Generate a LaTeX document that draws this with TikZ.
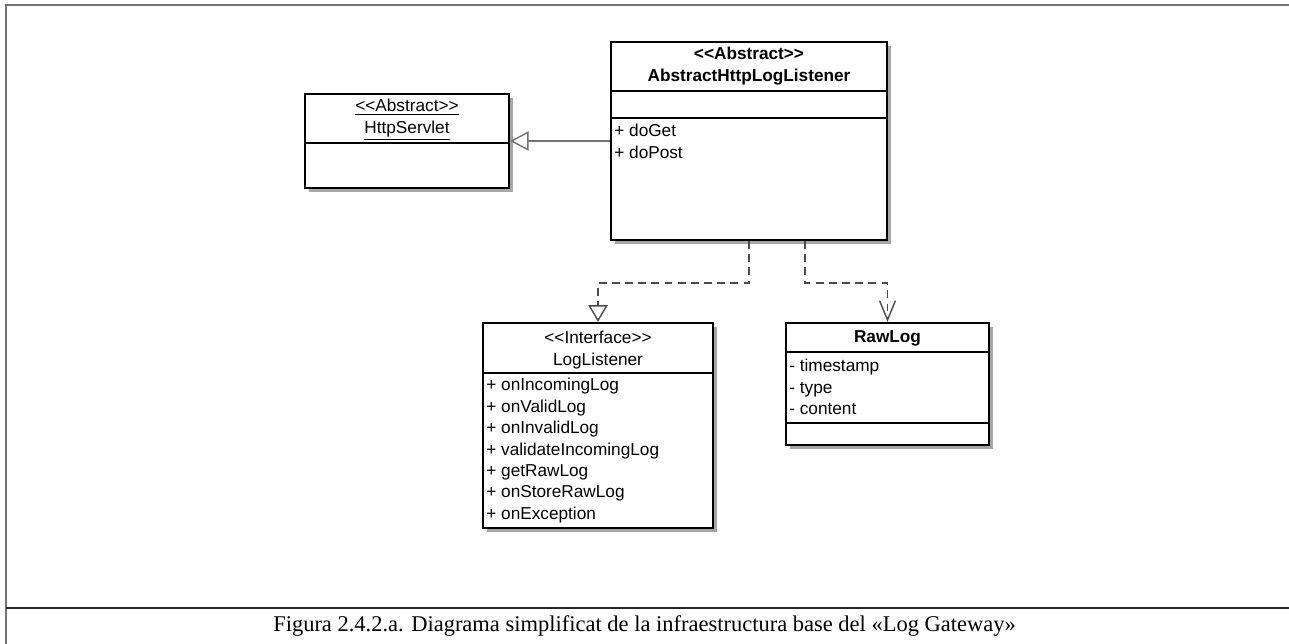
\documentclass[tikz,border=0pt]{standalone}
\usepackage{fontspec}
\setmainfont{Liberation Serif}
\newfontfamily\umlfont{Liberation Sans}
\usetikzlibrary{arrows.meta,shadows}
\newcommand\stereo[1]{<\kern0pt<#1>\kern0pt>}
\tikzset{
  classbox/.style 2 args={draw, line width=1.3pt, fill=white,
    minimum width=#1*0.02cm, minimum height=#2*0.02cm, inner sep=0pt,
    general shadow={fill=black!35, shadow xshift=2.2pt, shadow yshift=-2.2pt}},
  title/.style={font=\umlfont\fontsize{9.8}{12.2}\selectfont, inner sep=0pt, align=center},
  members/.style={font=\umlfont\fontsize{9.8}{12.2}\selectfont, inner sep=0pt, align=left, anchor=north west},
  sep/.style={line width=1.3pt},
  inherit/.style={draw=black!55, line width=1pt, -{Triangle[open, length=10.5pt, width=11pt, line width=0.8pt]}},
  realize/.style={draw=black!70, line width=1.1pt, dash pattern=on 4.5pt off 3pt,
    -{Triangle[open, length=9.5pt, width=11pt, line width=0.8pt, fill=white]}},
  depend/.style={draw=black!70, line width=1.1pt, dash pattern=on 4.5pt off 3pt,
    -{Straight Barb[length=11pt, width=9pt, line width=0.8pt]}}
}
\begin{document}
\begin{tikzpicture}[x=0.02cm, y=-0.02cm]
\useasboundingbox (0,0) rectangle (1289,644);

% frame and caption
\draw[black!55, line width=1.2pt] (1289,5) -- (6,5) -- (6,644);
\draw[black!85, line width=0.7pt] (6,608) -- (1289,608);
\node[font=\fontsize{12.8}{14}\selectfont, inner sep=0pt] (caption) at (644.5,626)
{Figura 2.4.2.a. Diagrama simplificat de la infraestructura base del «Log Gateway»};

% classes
\node[classbox={204}{94}] (servlet) at (407,141) {};
\draw[sep] (305,143) -- (509,143);
\node[title] (servlettitle) at (407,120)
{\underline{\stereo{Abstract}}\\\underline{HttpServlet}};

\node[classbox={276}{198}] (abs) at (749,141) {};
\draw[sep] (611,91) -- (887,91);
\draw[sep] (611,118) -- (887,118);
\node[title, font=\umlfont\bfseries\fontsize{9.8}{12.2}\selectfont] (abstitle) at (749,66)
{\stereo{Abstract}\\AbstractHttpLogListener};
\node[members] (absops) at (614,124) {+ doGet\\+ doPost};

\node[classbox={230}{205}] (listener) at (598,425.5) {};
\draw[sep] (483,373) -- (713,373);
\node[title] (listenertitle) at (598,350) {\stereo{Interface}\\LogListener};
\node[members] (listenerops) at (486,378)
{+ onIncomingLog\\+ onValidLog\\+ onInvalidLog\\+ validateIncomingLog\\+ getRawLog\\+ onStoreRawLog\\+ onException};

\node[classbox={203}{122}] (rawlog) at (887.5,384) {};
\draw[sep] (786,352) -- (989,352);
\draw[sep] (786,423) -- (989,423);
\node[title, font=\umlfont\bfseries\fontsize{9.8}{12.2}\selectfont] (rawlogtitle) at (887.5,338) {RawLog};
\node[members] (rawlogattrs) at (789,359) {- timestamp\\- type\\- content};

% relations
\draw[inherit] (abs.west) -- (servlet.east);
\draw[realize] (abs.south) -- ++(0,42) -| (listener.north);
\draw[depend] ([xshift=1.12cm]abs.south) -- ++(0,42) -| (rawlog.north);
\end{tikzpicture}
\end{document}
